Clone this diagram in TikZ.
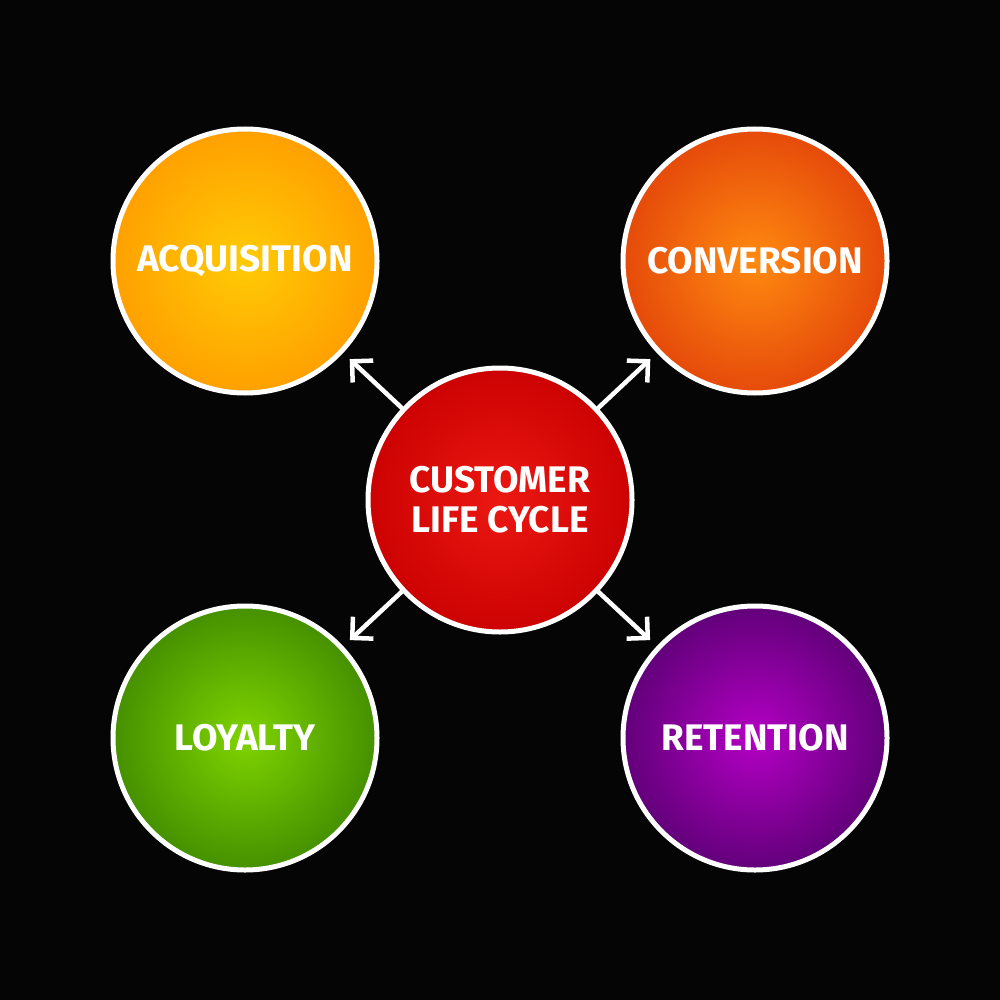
\documentclass[tikz,border=0pt]{standalone}
\usepackage{fontspec}
\setmainfont{Fira Sans}
\usetikzlibrary{arrows.meta}
\definecolor{bg}{HTML}{050505}
\definecolor{acqin}{HTML}{FFCB05}
\definecolor{acqout}{HTML}{FFA000}
\definecolor{conin}{HTML}{FF8A10}
\definecolor{conout}{HTML}{E54A0A}
\definecolor{cenin}{HTML}{EC1812}
\definecolor{cenout}{HTML}{CC0202}
\definecolor{loyin}{HTML}{7FD400}
\definecolor{loyout}{HTML}{459000}
\definecolor{retin}{HTML}{B400C4}
\definecolor{retout}{HTML}{62007A}
\begin{document}
\begin{tikzpicture}[x=1pt,y=-1pt,
  bubble/.style={circle, draw=white, line width=5pt, minimum size=264pt, inner sep=0pt,
    font=\bfseries\fontsize{37}{40}\selectfont, text=white, align=center},
  arr/.style={draw=white, line width=4.5pt, line cap=round,
    -{Straight Barb[length=15pt,width=30pt,line width=4.5pt]}, shorten >=9pt}]
\fill[bg] (0,0) rectangle (1000,1000);
\useasboundingbox (0,0) rectangle (1000,1000);
\node[bubble, inner color=acqin, outer color=acqout] (acq) at (245,261) {ACQUISITION};
\node[bubble, inner color=conin, outer color=conout] (con) at (755,261) {CONVERSION};
\node[bubble, inner color=loyin, outer color=loyout] (loy) at (245,738) {LOYALTY};
\node[bubble, inner color=retin, outer color=retout] (ret) at (755,738) {RETENTION};
\node[bubble, inner color=cenin, outer color=cenout] (cen) at (500,500) {CUSTOMER\\LIFE CYCLE};
\draw[arr] (cen) -- (acq);
\draw[arr] (cen) -- (con);
\draw[arr] (cen) -- (loy);
\draw[arr] (cen) -- (ret);
\end{tikzpicture}
\end{document}
